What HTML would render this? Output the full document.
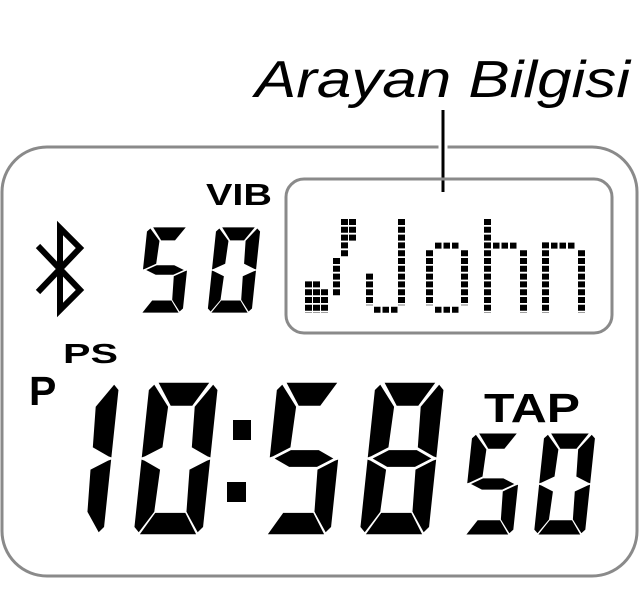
<!DOCTYPE html>
<html><head><style>html,body{margin:0;padding:0;background:#fff}svg{display:block}</style></head><body>
<svg width="640" height="599" viewBox="0 0 640 599" xmlns="http://www.w3.org/2000/svg">
<defs>
<g id="sa"><polygon points="12,0 88,0 66,32 34,32"/></g>
<g id="sf"><polygon points="0,10 8,2 32,32 30,86 6,98 0,100"/></g>
<g id="sb"><polygon points="92,2 100,10 100,100 94,98 70,86 68,32"/></g>
<g id="sg"><polygon points="6,100 30,88 70,88 94,100 70,112 30,112"/></g>
<g id="se"><polygon points="0,100 6,102 30,114 28,170 8,198 0,190"/></g>
<g id="sc"><polygon points="94,102 100,100 100,190 92,198 72,170 70,114"/></g>
<g id="sd"><polygon points="8,200 28,170 72,170 92,200"/></g>
<g id="d0" fill="#000" stroke="#fff" stroke-width="2"><use href="#sa"/><use href="#sb"/><use href="#sc"/><use href="#sd"/><use href="#se"/><use href="#sf"/></g>
<g id="d1" fill="#000" stroke="#fff" stroke-width="2"><use href="#sb"/><use href="#sc"/></g>
<g id="d5" fill="#000" stroke="#fff" stroke-width="2"><use href="#sa"/><use href="#sf"/><use href="#sg"/><use href="#sc"/><use href="#sd"/></g>
<g id="d8" fill="#000" stroke="#fff" stroke-width="2"><use href="#sa"/><use href="#sb"/><use href="#sc"/><use href="#sd"/><use href="#se"/><use href="#sf"/><use href="#sg"/></g>
</defs>

<text x="255" y="97" font-family="Liberation Sans, sans-serif" font-style="italic" font-size="52" textLength="375" lengthAdjust="spacingAndGlyphs">Arayan Bilgisi</text>

<rect x="2" y="147" width="635" height="429" rx="45" fill="none" stroke="#8a8a8a" stroke-width="3"/>
<line x1="443" y1="110" x2="443" y2="192" stroke="#fff" stroke-width="9"/>
<line x1="443" y1="110" x2="443" y2="192" stroke="#000" stroke-width="3"/>
<rect x="286" y="179" width="326" height="154" rx="18" fill="none" stroke="#8a8a8a" stroke-width="3"/>

<text x="206" y="205" font-family="Liberation Sans, sans-serif" font-weight="bold" font-size="31" textLength="66" lengthAdjust="spacingAndGlyphs">VIB</text>
<text x="63" y="363" font-family="Liberation Sans, sans-serif" font-weight="bold" font-size="28" textLength="55" lengthAdjust="spacingAndGlyphs">PS</text>
<text x="29" y="405" font-family="Liberation Sans, sans-serif" font-weight="bold" font-size="41">P</text>
<text x="484" y="422" font-family="Liberation Sans, sans-serif" font-weight="bold" font-size="41" textLength="96" lengthAdjust="spacingAndGlyphs">TAP</text>

<!-- bluetooth -->
<path d="M38,246 L80,290 L60,310 L60,228 L80,248 L38,292" fill="none" stroke="#000" stroke-width="6" stroke-linejoin="miter"/>

<!-- top digits -->
<g transform="translate(147,227) skewX(-6) scale(0.45,0.43)"><use href="#d5"/></g>
<g transform="translate(216,227) skewX(-6) scale(0.45,0.43)"><use href="#d0"/></g>

<!-- big digits -->
<g transform="translate(50,382) skewX(-6) scale(0.70,0.765)"><use href="#d1"/></g>
<g transform="translate(149,382) skewX(-6) scale(0.70,0.765)"><use href="#d0"/></g>
<g transform="translate(277,382) skewX(-6) scale(0.70,0.765)"><use href="#d5"/></g>
<g transform="translate(375,382) skewX(-6) scale(0.70,0.765)"><use href="#d8"/></g>
<rect x="233" y="420" width="18" height="20" fill="#000"/>
<rect x="227" y="482" width="19" height="20" fill="#000"/>

<!-- small digits -->
<g transform="translate(472,433) skewX(-6) scale(0.52,0.51)"><use href="#d5"/></g>
<g transform="translate(544,433) skewX(-6) scale(0.52,0.51)"><use href="#d0"/></g>

<!-- dot matrix -->
<g stroke="#000" stroke-width="7" stroke-dasharray="6 1.8">
<line x1="308.5" y1="281.4" x2="308.5" y2="313"/>
<line x1="316.5" y1="281.4" x2="316.5" y2="313"/>
<line x1="324.5" y1="289.2" x2="324.5" y2="313"/>
<line x1="336.5" y1="258" x2="336.5" y2="297"/>
<line x1="344.5" y1="219" x2="344.5" y2="258"/>
<line x1="352.5" y1="219" x2="352.5" y2="242.4"/>
<line x1="369.5" y1="273.6" x2="369.5" y2="305.2"/>
<line x1="401.5" y1="219" x2="401.5" y2="305.2"/>
<line x1="429.5" y1="250.2" x2="429.5" y2="305.2"/>
<line x1="464.5" y1="250.2" x2="464.5" y2="305.2"/>
<line x1="487.5" y1="219" x2="487.5" y2="313"/>
<line x1="523.5" y1="250.2" x2="523.5" y2="313"/>
<line x1="545.5" y1="242.4" x2="545.5" y2="313"/>
<line x1="581.5" y1="250.2" x2="581.5" y2="313"/>
</g>
<g stroke="#000" stroke-width="6" stroke-dasharray="6.5 2">
<line x1="374" y1="309.8" x2="398" y2="309.8"/>
<line x1="435" y1="245.6" x2="460" y2="245.6"/>
<line x1="435" y1="309.8" x2="460" y2="309.8"/>
<line x1="493" y1="245.6" x2="518" y2="245.6"/>
<line x1="551" y1="245.6" x2="576" y2="245.6"/>
</g>
</svg>
</body></html>
